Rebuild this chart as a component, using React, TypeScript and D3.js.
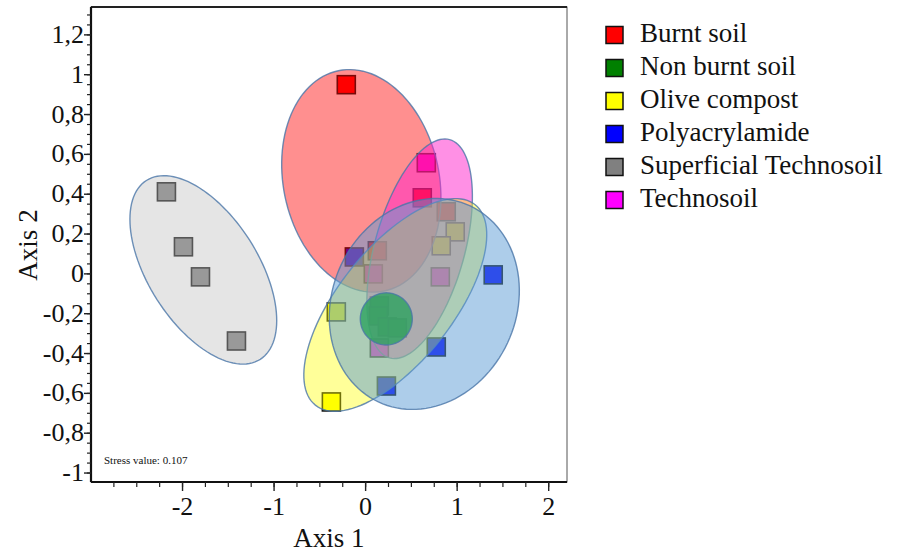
import React from "react";
import * as d3 from "d3";

const W = 898;
const H = 554;

// Groups (legend order)
const groups = ["Burnt soil", "Non burnt soil", "Olive compost", "Polyacrylamide", "Superficial Technosoil", "Technosoil"];
const pointColors = ["#ff0000", "#008000", "#ffff00", "#0000ff", "#808080", "#ff00ff"];
const ellipseFills = ["#ff0000", "#2ca25f", "#ffff00", "#5b9bd5", "#bfbfbf", "#ff22cc"];
const ellipseOpacity = [0.44, 0.8, 0.4, 0.5, 0.4, 0.5];

// NMDS scores (Axis 1, Axis 2) per group
const burntX = [-0.211, 0.619, 0.881, 0.128];
const burntY = [0.95, 0.382, 0.312, 0.116];
const nonBurntX = [0.15, 0.139, 0.237, 0.346];
const nonBurntY = [-0.161, -0.211, -0.266, -0.271];
const oliveX = [-0.32, -0.374, 0.979, 0.826];
const oliveY = [-0.191, -0.643, 0.211, 0.141];
const polyX = [1.394, 0.772, 0.227, -0.123];
const polyY = [-0.005, -0.367, -0.563, 0.085];
const superX = [-2.176, -1.99, -1.804, -1.411];
const superY = [0.412, 0.136, -0.015, -0.337];
const technoX = [0.663, 0.816, 0.084, 0.15];
const technoY = [0.558, -0.015, 0.0, -0.372];

const seriesX = [burntX, nonBurntX, oliveX, polyX, superX, technoX];
const seriesY = [burntY, nonBurntY, oliveY, polyY, superY, technoY];

// Ellipses: centre and two half-axis vectors (data units)
const ellCx = [-0.047, 0.226, 0.324, 0.641, -1.773, 0.59];
const ellCy = [0.467, -0.226, -0.156, -0.151, 0.02, 0.126];
const ellUx = [0.251, 0.284, 0.873, 0.502, 0.622, 0.328];
const ellUy = [-0.553, 0, 0.503, 0.492, -0.449, 0.548];
const ellVx = [-0.833, 0, 0.486, 0.909, -0.506, 0.474];
const ellVy = [-0.08, 0.131, -0.179, -0.196, -0.149, -0.06];
const ellipseOrder = [4, 0, 5, 2, 3, 1];

const xTicks = [-2, -1, 0, 1, 2];
const yTicks = [-1, -0.8, -0.6, -0.4, -0.2, 0, 0.2, 0.4, 0.6, 0.8, 1, 1.2];
const xMinor = d3.range(-2.75, 2.01, 0.25);
const yMinor = d3.range(-1.0, 1.34, 0.05);

const fmt = (v: number) => (Math.round(v * 10) / 10).toString().replace(".", ",");

export default function App() {
  const left = 91, right = 567, top = 7, bottom = 482;
  const x = d3.scaleLinear().domain([-3.0, 2.2]).range([left, right]);
  const y = d3.scaleLinear().domain([-1.045, 1.34]).range([bottom, top]);

  const line = d3.line<[number, number]>().curve(d3.curveLinearClosed);
  const ellipsePath = (i: number) => {
    const pts: [number, number][] = d3.range(0, 120).map((k) => {
      const t = (k / 120) * Math.PI * 2;
      const dx = ellCx[i] + Math.cos(t) * ellUx[i] + Math.sin(t) * ellVx[i];
      const dy = ellCy[i] + Math.cos(t) * ellUy[i] + Math.sin(t) * ellVy[i];
      return [x(dx), y(dy)];
    });
    return line(pts) || "";
  };

  const sq = 18;
  const serif = "'Liberation Serif', 'Times New Roman', serif";

  return (
    <svg width={W} height={H} style={{ position: "absolute", left: 0, top: 0, background: "#fff" }} fontFamily={serif}>
      <rect x={0} y={0} width={W} height={H} fill="#fff" />
      <clipPath id="plot">
        <rect x={left} y={top} width={right - left} height={bottom - top} />
      </clipPath>
      <g clipPath="url(#plot)">
        {groups.map((g, gi) =>
          seriesX[gi].map((vx, j) => (
            <rect
              key={g + j}
              x={x(vx) - sq / 2}
              y={y(seriesY[gi][j]) - sq / 2}
              width={sq}
              height={sq}
              fill={pointColors[gi]}
              stroke="#111"
              strokeWidth={1.6}
            />
          ))
        )}
        {ellipseOrder.map((i) => (
          <path
            key={"e" + i}
            d={ellipsePath(i)}
            fill={ellipseFills[i]}
            fillOpacity={ellipseOpacity[i]}
            stroke="#4a75a8"
            strokeOpacity={0.8}
            strokeWidth={1.4}
          />
        ))}
      </g>
      <rect x={left} y={top} width={right - left} height={bottom - top} fill="none" stroke="#555" strokeWidth={1} />
      <line x1={left} x2={right} y1={top} y2={top} stroke="#222" strokeWidth={2} />
      <line x1={left} x2={left} y1={top} y2={bottom} stroke="#111" strokeWidth={2.2} />
      <line x1={left} x2={right} y1={bottom} y2={bottom} stroke="#111" strokeWidth={2.2} />

      {xMinor.map((v) => (
        <line key={"xm" + v} x1={x(v)} x2={x(v)} y1={bottom} y2={bottom + 5} stroke="#222" strokeWidth={1.2} />
      ))}
      {xTicks.map((v) => (
        <g key={"xt" + v}>
          <line x1={x(v)} x2={x(v)} y1={bottom} y2={bottom + 9} stroke="#222" strokeWidth={1.4} />
          <text x={x(v)} y={515} textAnchor="middle" fontSize={26} fill="#111">
            {v < 0 ? "-" + Math.abs(v) : String(v)}
          </text>
        </g>
      ))}
      {yMinor.map((v) => (
        <line key={"ym" + v} x1={left - 4} x2={left} y1={y(v)} y2={y(v)} stroke="#222" strokeWidth={1.2} />
      ))}
      {yTicks.map((v) => (
        <g key={"yt" + v}>
          <line x1={left - 7} x2={left} y1={y(v)} y2={y(v)} stroke="#222" strokeWidth={1.4} />
          <text x={84} y={y(v) + 8} textAnchor="end" fontSize={26} fill="#111">
            {fmt(v)}
          </text>
        </g>
      ))}

      <text x={104} y={464} fontSize={11} fill="#111">Stress value: 0.107</text>

      <text x={329} y={547} textAnchor="middle" fontSize={27} fill="#111">Axis 1</text>
      <text transform="translate(37,245) rotate(-90)" textAnchor="middle" fontSize={27} fill="#111">Axis 2</text>

      {groups.map((g, i) => (
        <g key={"lg" + g} transform={`translate(0, ${35 + i * 33})`}>
          <rect x={606} y={-8.5} width={17} height={17} fill={pointColors[i]} stroke="#111" strokeWidth={1.5} />
          <text x={640} y={7} fontSize={27} fill="#111">{g}</text>
        </g>
      ))}
    </svg>
  );
}
